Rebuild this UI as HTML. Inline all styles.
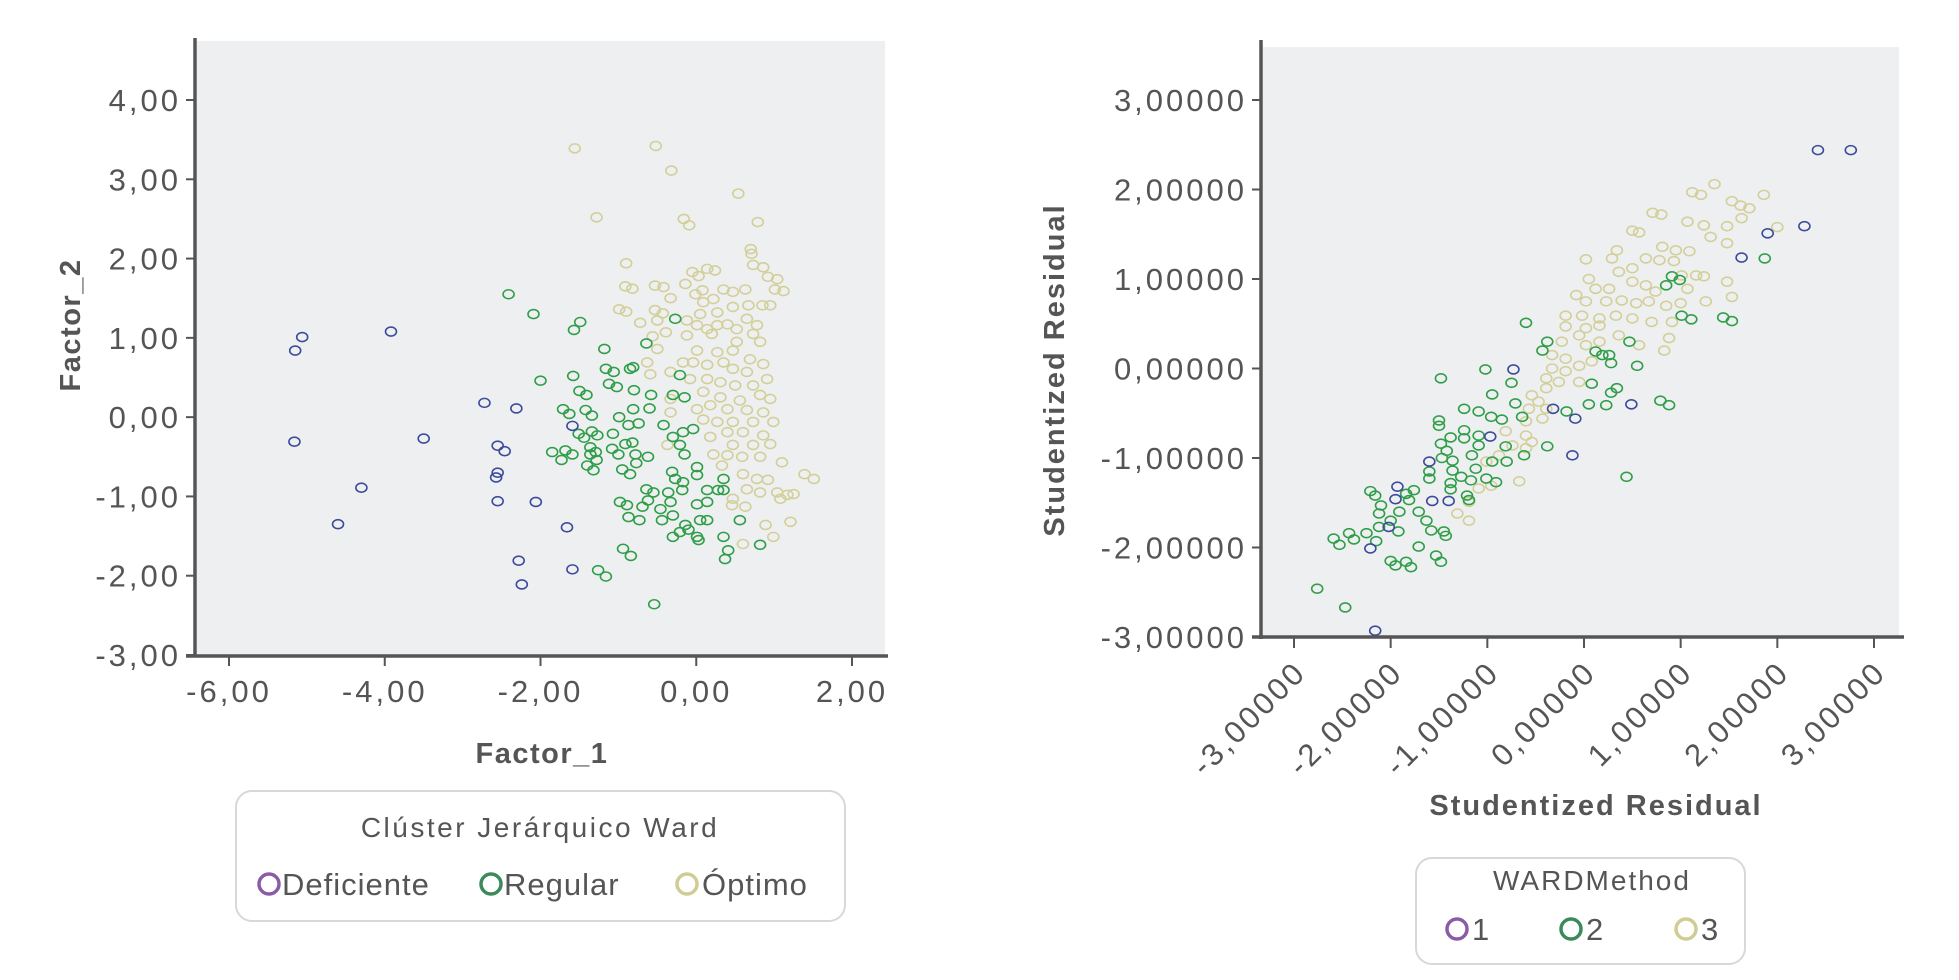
<!DOCTYPE html>
<html><head><meta charset="utf-8">
<style>
html,body{margin:0;padding:0;background:#fff;}
svg{display:block;font-family:"Liberation Sans",sans-serif;}
</style></head>
<body>
<svg id="chart" width="1959" height="980" viewBox="0 0 1959 980" xmlns="http://www.w3.org/2000/svg">
<g id="left"></g>
<g id="right"></g>
<g>
  <rect x="236" y="791" width="609" height="130" rx="16" fill="#fff" stroke="#d8d8d8" stroke-width="2"/>
  <text x="540" y="837" text-anchor="middle" font-size="28" letter-spacing="2.5" fill="#555">Clúster Jerárquico Ward</text>
  <circle cx="269" cy="884" r="10" fill="none" stroke="#8a5ca8" stroke-width="3.5"/>
  <text x="282" y="895" font-size="31" letter-spacing="1" fill="#555">Deficiente</text>
  <circle cx="491" cy="884" r="10" fill="none" stroke="#3a8a5a" stroke-width="3.5"/>
  <text x="504" y="895" font-size="31" letter-spacing="1" fill="#555">Regular</text>
  <circle cx="687" cy="884" r="10" fill="none" stroke="#cfcc94" stroke-width="3.5"/>
  <text x="702" y="895" font-size="31" letter-spacing="1" fill="#555">Óptimo</text>
</g>
<g>
  <rect x="1416" y="858" width="329" height="106" rx="16" fill="#fff" stroke="#d8d8d8" stroke-width="2"/>
  <text x="1592" y="890" text-anchor="middle" font-size="28" letter-spacing="2" fill="#555">WARDMethod</text>
  <circle cx="1457" cy="929" r="10" fill="none" stroke="#8a5ca8" stroke-width="3.5"/>
  <text x="1472" y="940" font-size="31" fill="#555">1</text>
  <circle cx="1571" cy="929" r="10" fill="none" stroke="#3a8a5a" stroke-width="3.5"/>
  <text x="1586" y="940" font-size="31" fill="#555">2</text>
  <circle cx="1686" cy="929" r="10" fill="none" stroke="#cfcc94" stroke-width="3.5"/>
  <text x="1701" y="940" font-size="31" fill="#555">3</text>
</g>
</svg>
<script>
// ---------- LEFT CHART DATA ----------
const leftXTicks = [-6, -4, -2, 0, 2];
const leftYTicks = [-3, -2, -1, 0, 1, 2, 3, 4];
const leftXTickLabels = ["-6,00", "-4,00", "-2,00", "0,00", "2,00"];
const leftYTickLabels = ["-3,00", "-2,00", "-1,00", "0,00", "1,00", "2,00", "3,00", "4,00"];
const leftDefX = [-5.06,-5.15,-3.92,-5.16,-3.5,-4.3,-4.6,-2.72,-2.31,-2.55,-2.46,-2.55,-2.57,-2.55,-2.06,-1.59,-1.66,-2.28,-2.24,-1.59];
const leftDefY = [1.01,0.84,1.08,-0.31,-0.27,-0.89,-1.35,0.18,0.11,-0.36,-0.43,-0.7,-0.76,-1.06,-1.07,-0.11,-1.39,-1.81,-2.11,-1.92];
const leftRegX = [-2.41,-2.09,-1.49,-1.57,-1.18,-1.16,-1.12,-0.85,-0.81,-1.58,-1.5,-1.71,-1.42,-0.8,-0.58,-0.6,-0.81,-0.99,-0.87,-0.74,-1.51,-1.34,-1.07,-0.91,-0.82,-1.36,-1.36,-1.68,-1.08,-0.78,-0.62,-1.4,-0.77,-0.95,-0.85,-0.42,-0.3,-0.21,-0.17,-0.04,-0.21,-0.3,-0.15,-0.27,-0.64,-0.15,-0.31,-0.17,-0.27,0.01,0.01,-0.64,-0.55,-0.36,-0.18,0.14,0.28,0.35,-0.98,-0.89,-0.69,-0.62,-0.46,-0.33,-0.3,-0.44,-0.87,-0.73,-0.14,0.01,0.14,0.05,0.14,-0.3,-0.21,0.01,0.03,-0.1,0.35,0.41,0.37,0.56,0.82,-0.94,-1.26,-0.54,0.35,-2.0,-1.85,-1.73,-1.59,-1.44,-1.27,-1.29,-1.28,-1.32,-1.16,-0.84,-1.0,-1.63,-1.34,-1.06,-1.02,-1.41];
const leftRegY = [1.55,1.3,1.2,1.1,0.86,0.61,0.42,0.61,0.63,0.52,0.33,0.1,0.09,0.34,0.28,0.11,0.1,0.0,-0.1,-0.08,-0.21,-0.18,-0.21,-0.34,-0.32,-0.38,-0.47,-0.42,-0.4,-0.47,-0.5,-0.61,-0.58,-0.66,-0.72,-0.1,-0.25,-0.35,-0.19,-0.15,0.53,0.28,0.25,1.24,0.93,-0.47,-0.69,-0.82,-0.78,-0.63,-0.73,-0.91,-0.95,-0.95,-0.92,-0.92,-0.92,-0.78,-1.07,-1.11,-1.13,-1.05,-1.16,-1.07,-1.24,-1.3,-1.26,-1.3,-1.36,-1.1,-1.07,-1.3,-1.3,-1.51,-1.45,-1.51,-1.55,-1.42,-1.51,-1.68,-1.79,-1.3,-1.61,-1.66,-1.93,-2.36,-0.92,0.46,-0.44,-0.54,-0.47,-0.26,-0.23,-0.44,-0.54,-0.67,-2.01,-1.75,-0.47,0.04,0.02,0.57,0.38,0.28];
const leftOptX = [-1.56,-0.52,-0.32,0.54,-1.28,-0.16,-0.09,0.79,0.7,0.71,-0.9,0.86,1.04,1.12,-0.82,-0.42,0.03,0.24,-0.9,-0.43,1.51,-0.33,-0.53,-0.91,-0.99,-0.72,-0.53,-0.5,-0.56,-0.39,-0.5,-0.63,-0.59,-0.14,-0.05,0.14,0.08,-0.01,0.22,0.35,0.47,0.63,0.67,0.85,0.95,0.47,0.27,0.05,0.09,-0.12,0.01,0.14,0.27,0.4,0.52,0.65,0.78,0.73,0.82,0.52,0.2,-0.12,0.01,0.27,0.47,0.69,0.86,0.73,0.92,1.01,-0.17,-0.04,0.14,0.35,0.47,0.65,0.91,-0.33,-0.08,0.14,0.31,0.5,0.73,0.95,0.82,0.09,0.31,0.56,0.01,0.18,0.4,0.65,0.86,0.09,0.27,0.47,0.73,0.99,0.4,0.6,0.86,0.18,0.47,0.73,0.95,0.22,0.4,0.59,0.82,1.1,0.33,0.6,0.78,0.92,0.65,0.82,1.04,1.17,1.25,1.08,0.47,0.46,0.63,1.39,1.21,0.89,0.99,0.6,-0.33,-0.37,-0.33];
const leftOptY = [3.39,3.42,3.11,2.82,2.52,2.5,2.42,2.46,2.12,2.06,1.94,1.89,1.74,1.59,1.62,1.64,1.78,1.85,1.33,1.31,-0.78,1.5,1.66,1.65,1.36,1.19,1.35,1.22,1.02,1.07,0.86,0.69,0.54,1.68,1.83,1.87,1.6,1.55,1.49,1.61,1.58,1.61,1.41,1.41,1.41,1.39,1.32,1.3,1.45,1.22,1.16,1.11,1.16,1.17,1.11,1.24,1.16,1.05,0.95,0.95,1.05,1.03,0.84,0.82,0.84,0.73,0.67,1.92,1.77,1.61,0.69,0.69,0.66,0.69,0.61,0.57,0.48,0.57,0.48,0.48,0.44,0.4,0.4,0.23,0.28,0.32,0.25,0.21,0.1,0.15,0.1,0.09,0.06,-0.03,-0.06,-0.06,-0.06,-0.06,-0.19,-0.19,-0.23,-0.25,-0.35,-0.35,-0.34,-0.47,-0.48,-0.5,-0.5,-0.57,-0.61,-0.72,-0.78,-0.79,-0.91,-0.95,-0.95,-0.98,-0.97,-1.03,-1.03,-1.11,-1.13,-0.72,-1.32,-1.36,-1.51,-1.6,0.06,-0.35,0.23];

// ---------- RIGHT CHART DATA ----------
const rightXTicks = [-3, -2, -1, 0, 1, 2, 3];
const rightYTicks = [-3, -2, -1, 0, 1, 2, 3];
const rightXTickLabels = ["-3,00000","-2,00000","-1,00000","0,00000","1,00000","2,00000","3,00000"];
const rightYTickLabels = ["-3,00000","-2,00000","-1,00000","0,00000","1,00000","2,00000","3,00000"];
const rightG1X = [2.42,2.76,2.28,1.9,1.63,-2.16,-0.73,0.49,-0.09,-0.12,-0.32,-0.97,-1.6,-1.93,-1.95,-1.57,-1.4,-2.02,-2.21];
const rightG1Y = [2.44,2.44,1.59,1.51,1.24,-2.93,-0.01,-0.4,-0.56,-0.97,-0.45,-0.76,-1.04,-1.32,-1.46,-1.48,-1.48,-1.77,-2.01];
const rightG2X = [1.87,1.53,1.11,0.99,0.44,0.88,-0.6,-1.02,-1.48,-2.76,-2.47,-2.53,-2.38,-1.95,-1.79,-1.48,-2.16,-0.38,-0.43,0.91,0.85,1.01,1.44,0.47,0.12,0.19,0.26,0.28,0.55,0.08,0.34,0.28,0.79,0.05,0.23,-0.18,-0.75,-0.95,-0.71,-1.24,-1.09,-0.96,-0.85,-0.64,-1.5,-1.5,-1.24,-1.24,-1.09,-1.38,-1.48,-1.09,-1.16,-1.42,-0.81,-0.38,-0.62,-1.47,-1.36,-0.95,-0.8,-1.12,-1.6,-1.6,-1.36,-1.27,-1.17,-1.01,-1.38,-1.38,-0.91,-1.76,-1.84,-1.21,-1.19,-2.21,-1.81,-2.1,-1.91,-1.71,-2.12,-2.0,-1.63,-2.12,-1.92,-1.58,-1.45,-2.43,-2.59,-2.25,-1.43,-2.15,-1.71,-1.53,-2.0,-1.84];
const rightG2Y = [1.23,0.53,0.55,0.99,-1.21,-0.41,0.51,-0.01,-0.11,-2.46,-2.67,-1.97,-1.91,-2.2,-2.22,-2.16,-1.42,0.3,0.2,1.03,0.93,0.59,0.57,0.3,0.19,0.15,0.15,0.06,0.03,-0.17,-0.22,-0.27,-0.36,-0.4,-0.41,-0.48,-0.16,-0.29,-0.39,-0.45,-0.48,-0.54,-0.57,-0.54,-0.58,-0.64,-0.69,-0.78,-0.75,-0.77,-0.84,-0.86,-0.97,-0.92,-0.87,-0.87,-0.97,-1.0,-1.03,-1.04,-1.04,-1.12,-1.15,-1.23,-1.14,-1.21,-1.25,-1.23,-1.28,-1.35,-1.27,-1.36,-1.4,-1.42,-1.47,-1.37,-1.47,-1.53,-1.6,-1.6,-1.62,-1.7,-1.7,-1.77,-1.82,-1.81,-1.82,-1.84,-1.9,-1.84,-1.87,-1.93,-1.99,-2.09,-2.15,-2.16];
const rightG3X = [1.35,1.21,1.86,0.8,0.57,2.0,1.62,1.71,1.12,0.71,0.5,1.53,1.07,1.24,1.48,1.63,1.31,1.48,0.34,0.29,0.02,0.64,0.81,0.95,1.09,0.78,0.93,0.5,0.36,1.01,1.16,1.24,1.48,1.53,0.05,0.12,0.26,0.5,0.64,0.74,1.07,-0.08,0.02,0.23,0.39,0.54,0.67,0.85,1.0,1.26,-0.19,-0.02,0.16,0.33,0.5,0.7,0.91,-0.19,0.02,0.16,0.36,0.88,0.83,-0.23,-0.05,0.02,0.16,0.57,-0.33,-0.19,-0.05,0.08,-0.33,-0.19,-0.39,-0.26,-0.05,-0.39,-0.54,-0.47,-0.57,-0.39,-0.6,-0.43,-0.6,-0.81,-0.74,-0.6,-0.54,-1.01,-0.88,-1.09,-0.96,-1.19,-1.31,-1.19,-0.67];
const rightG3Y = [2.06,1.94,1.94,1.72,1.52,1.58,1.82,1.79,1.97,1.74,1.54,1.87,1.64,1.6,1.59,1.68,1.47,1.4,1.32,1.23,1.22,1.23,1.36,1.32,1.31,1.21,1.2,1.12,1.08,1.04,1.04,1.03,0.97,0.8,1.0,0.89,0.89,0.97,0.93,0.86,0.89,0.82,0.75,0.75,0.76,0.73,0.75,0.7,0.73,0.75,0.59,0.59,0.56,0.59,0.56,0.52,0.52,0.47,0.45,0.48,0.37,0.34,0.2,0.3,0.37,0.26,0.3,0.26,0.15,0.11,0.03,0.08,0.0,-0.03,-0.11,-0.15,-0.15,-0.22,-0.3,-0.37,-0.45,-0.45,-0.59,-0.56,-0.75,-0.7,-0.86,-0.89,-0.82,-1.04,-0.97,-1.34,-1.31,-1.49,-1.62,-1.7,-1.26];

const NS = "http://www.w3.org/2000/svg";
function mk(parent, tag, attrs) {
  const e = document.createElementNS(NS, tag);
  for (const k in attrs) e.setAttribute(k, attrs[k]);
  parent.appendChild(e);
  return e;
}
const TXT = "#555";

// ----- left chart -----
(function(){
  const g = document.getElementById('left');
  const x0 = 229, x1 = 852, v0 = -6, v1 = 2;
  const y0 = 655, y1 = 100, w0 = -3, w1 = 4;
  const sx = v => x0 + (v - v0) * (x1 - x0) / (v1 - v0);
  const sy = v => y0 + (v - w0) * (y1 - y0) / (w1 - w0);
  const bg = mk(g, 'rect', {x:197, y:41, width:688, height:614, fill:'#eeeff0'});
  
  
  function series(xs, ys, color, name) {
    const sg = mk(g, 'g', {});
    
    
    for (let i = 0; i < xs.length; i++) {
      const p = mk(sg, 'ellipse', {cx: sx(xs[i]), cy: sy(ys[i]), rx: 5.5, ry: 4.5, fill: 'none', stroke: color, 'stroke-width': 1.6});
      
      
    }
  }
  series(leftOptX, leftOptY, '#d3cf98', 'optimo-points');
  series(leftRegX, leftRegY, '#2f9e48', 'regular-points');
  series(leftDefX, leftDefY, '#3b4a9a', 'deficiente-points');
  mk(g, 'line', {x1:195, y1:38, x2:195, y2:657, stroke:'#555', 'stroke-width':3.5});
  mk(g, 'line', {x1:186, y1:656, x2:888, y2:656, stroke:'#555', 'stroke-width':3.5});
  leftYTicks.forEach((t, i) => {
    const y = sy(t);
    mk(g, 'line', {x1:186, y1:y, x2:195, y2:y, stroke:'#555', 'stroke-width':2});
    const tx = mk(g, 'text', {x:181, y:y + 11, 'text-anchor':'end', 'font-size':31, 'letter-spacing':3, fill:TXT});
    tx.textContent = leftYTickLabels[i];
    
    
  });
  leftXTicks.forEach((t, i) => {
    const x = sx(t);
    mk(g, 'line', {x1:x, y1:656, x2:x, y2:666, stroke:'#555', 'stroke-width':2});
    const tx = mk(g, 'text', {x:x, y:702, 'text-anchor':'middle', 'font-size':31, 'letter-spacing':3, fill:TXT});
    tx.textContent = leftXTickLabels[i];
    
    
  });
  const xt = mk(g, 'text', {x:542, y:763, 'text-anchor':'middle', 'font-size':29, 'letter-spacing':1.5, 'font-weight':'bold', fill:TXT});
  xt.textContent = 'Factor_1';
  
  
  const yt = mk(g, 'text', {x:0, y:0, 'text-anchor':'middle', 'font-size':29, 'letter-spacing':1.5, 'font-weight':'bold', fill:TXT, transform:'translate(80,325) rotate(-90)'});
  yt.textContent = 'Factor_2';
  
  
})();

// ----- right chart -----
(function(){
  const g = document.getElementById('right');
  const x0 = 1294, x1 = 1874, v0 = -3, v1 = 3;
  const y0 = 637, y1 = 100, w0 = -3, w1 = 3;
  const sx = v => x0 + (v - v0) * (x1 - x0) / (v1 - v0);
  const sy = v => y0 + (v - w0) * (y1 - y0) / (w1 - w0);
  const bg = mk(g, 'rect', {x:1263, y:47, width:636, height:590, fill:'#eeeff0'});
  
  
  function series(xs, ys, color, name) {
    const sg = mk(g, 'g', {});
    
    
    for (let i = 0; i < xs.length; i++) {
      const p = mk(sg, 'ellipse', {cx: sx(xs[i]), cy: sy(ys[i]), rx: 5.5, ry: 4.5, fill: 'none', stroke: color, 'stroke-width': 1.6});
      
      
    }
  }
  series(rightG3X, rightG3Y, '#d3cf98', 'ward-3-points');
  series(rightG2X, rightG2Y, '#2f9e48', 'ward-2-points');
  series(rightG1X, rightG1Y, '#3b4a9a', 'ward-1-points');
  mk(g, 'line', {x1:1261, y1:40, x2:1261, y2:639, stroke:'#555', 'stroke-width':3.5});
  mk(g, 'line', {x1:1252, y1:637, x2:1904, y2:637, stroke:'#555', 'stroke-width':3.5});
  rightYTicks.forEach((t, i) => {
    const y = sy(t);
    mk(g, 'line', {x1:1252, y1:y, x2:1261, y2:y, stroke:'#555', 'stroke-width':2});
    const tx = mk(g, 'text', {x:1247, y:y + 11, 'text-anchor':'end', 'font-size':31, 'letter-spacing':3, fill:TXT});
    tx.textContent = rightYTickLabels[i];
    
    
  });
  rightXTicks.forEach((t, i) => {
    const x = sx(t);
    mk(g, 'line', {x1:x, y1:637, x2:x, y2:648, stroke:'#555', 'stroke-width':2});
    const tx = mk(g, 'text', {x:0, y:0, 'text-anchor':'end', 'font-size':31, 'letter-spacing':3, fill:TXT, transform:'translate(' + (x + 14) + ',674) rotate(-45)'});
    tx.textContent = rightXTickLabels[i];
    
    
  });
  const xt = mk(g, 'text', {x:1596, y:815, 'text-anchor':'middle', 'font-size':29, 'letter-spacing':2, 'font-weight':'bold', fill:TXT});
  xt.textContent = 'Studentized Residual';
  
  
  const yt = mk(g, 'text', {x:0, y:0, 'text-anchor':'middle', 'font-size':29, 'letter-spacing':2, 'font-weight':'bold', fill:TXT, transform:'translate(1064,370) rotate(-90)'});
  yt.textContent = 'Studentized Residual';
  
  
})();
</script>
</body></html>
